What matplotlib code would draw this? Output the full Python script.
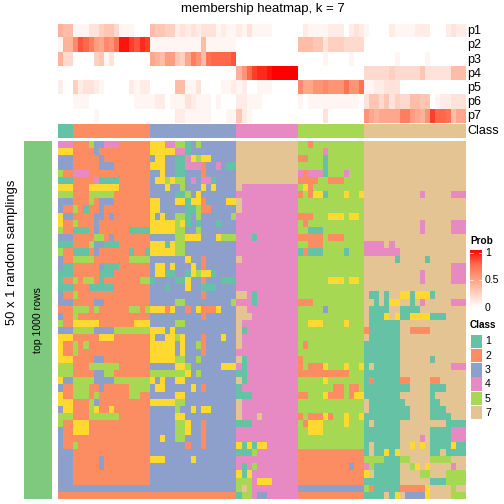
import numpy as np
import matplotlib
matplotlib.use("Agg")
import matplotlib.pyplot as plt
from matplotlib.colors import ListedColormap, LinearSegmentedColormap
from matplotlib.patches import Rectangle

plt.rcParams["font.family"] = ["Liberation Sans", "DejaVu Sans"]

W = 504.0
H = 504.0

class_ids = ["1", "2", "3", "4", "5", "6", "7"]
class_colors = ["#66C2A5", "#FC8D62", "#8DA0CB", "#E78AC3", "#A6D854", "#FFD92F", "#E5C494"]
legend_ids = ["1", "2", "3", "4", "5", "7"]
legend_colors = ["#66C2A5", "#FC8D62", "#8DA0CB", "#E78AC3", "#A6D854", "#E5C494"]
prob_labels = ["p1", "p2", "p3", "p4", "p5", "p6", "p7"]

# class of each column: blocks 3, 15, 17, 12, 13, 20
column_class = "111 222222222222222 33333333333333333 444444444444 5555555555555 77777777777777777777"

# membership prob per column, one char = 0.05 step (base 36)
prob_rows = [
    "877 111335664111000 76655232323331211 213111100000 0211112220232 10000211112220002322",
    "188 cgfda9cbejjhgih 11111111117111111 000000000000 7776635554444 00000000000000000000",
    "844 000056130000000 987aa659db7effffg 000000000000 0000010000100 00000010000010000000",
    "000 000000000000000 00000000000000000 8bfhiijkkkkk 0000000000000 44444544444633333777",
    "200 523321000002122 00000771130000112 120011100000 c99bbcbbbebbe 11223330000000000000",
    "000 111000000000111 12201113211101000 221110000000 1011111111110 36646354477660122333",
    "000 000010000000000 00000221111100011 621000000000 0000030000000 b989999dda98bhffe799",
]

# class of each sampling (row) and gene set (column)
heat_rows = [
    "444 222533444222222 66644551353333333 777777777777 5525555555555 77777777777777777777",
    "666 222232222222222 66666441333333333 777777777777 5555545555555 77777777777777777777",
    "333 222223222222222 36633114656633333 777777777777 2255515555555 77777777777777777777",
    "333 222223332222222 66633114442334311 777777777777 5555515555555 77777777777777777777",
    "522 444222222222222 33633113332333333 777777777777 4244415554555 77777777777777777777",
    "111 222241111222222 36656553434413333 777777777777 2222552225555 77777777777777777777",
    "666 222666666222222 33363353336363333 744444444444 5625555555555 77777777777777777777",
    "555 222555552222222 33333115363333333 444444444444 2526615556556 77777777777477777444",
    "333 222523332222222 66333661662333366 744444444444 5555555555555 77777777777777777777",
    "322 521223222222222 66333331152233333 744444444444 5555555555555 77777777777777777777",
    "633 222233232222222 63633551353333335 444444444444 2225556665665 77777777777777777777",
    "622 522232222222222 66666561313331333 444444444444 5255555555555 77777777777477777444",
    "522 111232222221111 66666553353333333 444444444444 5511155555555 77777777777477777444",
    "333 222255232222222 33333556663336555 444144444444 2222252225555 77777777777777777777",
    "111 222533111222222 66616553333333333 444444444444 5522255555555 44447477777777777777",
    "522 111232222221221 66666553333333333 444444444444 1211155551555 44444447777777777777",
    "322 555522222225555 33333336332333333 744444444444 5555555555555 77777717777717777777",
    "311 222223111222222 36636333632333333 444444444444 5555555555555 77777777777777777444",
    "111 222221112222222 36611331656613333 444444444444 5555555555555 77777777777477777444",
    "122 525521222222255 13333116332333111 444444444444 5555556665665 77777777777477777444",
    "111 222111112222222 33313336331113333 444444444444 5555555555555 77777777777777777777",
    "322 522222222222222 33333333332333333 774144444444 5555555555555 71171776616661777777",
    "333 222233222222222 33333553333333335 444144444444 2225555555555 77171667717477777444",
    "222 555252222225525 66626332362226333 774444444444 5555535555555 71111771111777777777",
    "322 522222222222222 33333333332333333 777444444444 5555555555555 71116761166661117777",
    "522 666662222222666 33333553333333333 744444444444 5566655556555 71111117777777777777",
    "333 555533335555555 66636333333333333 714444444444 5555555555555 21111117722227777777",
    "666 222226662222222 63366563332333633 744444444444 5555555555555 71111117777777777777",
    "622 525222222222222 66666363352333333 744444444444 5255555555555 11111117777777777777",
    "622 522222222222222 66666363332333333 444444444444 5555555555555 11111117777777777777",
    "666 222233222222222 66666553353333333 714444444444 2555555555555 11111117777771777777",
    "555 222555555222222 33333665333333666 414444444444 2522265556556 17111117777777777444",
    "555 222233552222222 55555556353333333 114444444444 2222222222555 11111117777777777777",
    "633 555533335555555 63633663333333333 714444444444 5555565555555 12111112277772277777",
    "322 555223222225555 36633333632333333 144444444444 5555555225225 11111111177771117777",
    "622 555252222225522 33333663333333333 111444444444 2255562225266 11111117777771777777",
    "666 222532222222222 66666553333333333 744444444444 5555555555555 71111111777771177777",
    "366 222562262222222 33333533636633333 744444444444 5555555555555 71111111177771117777",
    "555 222555555222222 33333663333333333 744474444444 2522262556556 11111111177771111777",
    "522 666222222222222 33333556332333333 111444444444 5266655556555 17111117777777771111",
    "322 666222222222222 33333556332333333 444444444444 5566655555555 11111117777771111444",
    "322 222222222222222 33633553332333333 444444444444 5555555555555 11111117777471111444",
    "322 522222222222222 33333332332333333 616166444444 5555555555555 17111117767671111611",
    "333 222222222222222 33333333333333333 111544444444 2222222222222 17116167777771171111",
    "333 222223222222222 66633333633333333 444444444444 2222222222222 55551115577775555777",
    "333 222223222222222 33333333333333333 414544444444 2222222222322 45111117756767777477",
    "333 222222222222222 33333333333333333 616444444444 2222222222222 67111117777557775555",
    "333 222222222222222 33333333333333333 555466644444 2222222222222 11111117777771115555",
    "333 333333333333333 33333333333333333 575444444444 3333333333333 52111112222267777577",
    "222 222222222222222 22222222222222222 155433444444 2222222222222 11117167333367777555",
]


def class_index(text):
    return [class_ids.index(c) for c in text.replace(" ", "")]


def pixel_axes(x0, y0, x1, y1):
    # pixel box in image coordinates, y going down
    ax = fig.add_axes([x0 / W, 1 - y1 / H, (x1 - x0) / W, (y1 - y0) / H])
    ax.axis("off")
    return ax


def put_text(x, y, s, **kw):
    fig.text(x / W, 1 - y / H, s, **kw)


heat = np.array([class_index(r) for r in heat_rows])
top_class = np.array([class_index(column_class)])
probs = np.array([[int(c, 36) / 20 for c in r.replace(" ", "")] for r in prob_rows])

class_cmap = ListedColormap(class_colors)
prob_cmap = LinearSegmentedColormap.from_list(
    "prob", ["#FFFFFF", "#FFD0C1", "#FF9E81", "#FF6A4A", "#FF0000"]
)

fig = plt.figure(figsize=(7, 7), dpi=72)

x_left, x_right = 58, 466

ax = pixel_axes(x_left, 24, x_right, 123.5)
ax.imshow(probs, cmap=prob_cmap, vmin=0, vmax=1, aspect="auto", interpolation="nearest")

ax = pixel_axes(x_left, 124, x_right, 138)
ax.imshow(top_class, cmap=class_cmap, vmin=0, vmax=6, aspect="auto", interpolation="nearest")

ax = pixel_axes(x_left, 141, x_right, 499)
ax.imshow(heat, cmap=class_cmap, vmin=0, vmax=6, aspect="auto", interpolation="nearest")

# left annotation bar
ax = pixel_axes(24, 141, 52, 499)
ax.add_patch(Rectangle((0, 0), 1, 1, transform=ax.transAxes, color="#7FC97F", lw=0))

put_text(262.5, 9, "membership heatmap, k = 7", fontsize=13.3, ha="center", va="center")
put_text(12.5, 252, "50 x 1 random samplings", fontsize=13, rotation=90, ha="center", va="center")
put_text(38, 320, "top 1000 rows", fontsize=10.5, rotation=90, ha="center", va="center")

row_h = (123.5 - 24) / len(prob_labels)
for i, lab in enumerate(prob_labels):
    put_text(467.5, 24 + row_h * (i + 0.5), lab, fontsize=12.5, ha="left", va="center")
put_text(467.5, 131, "Class", fontsize=12.5, ha="left", va="center")

# Prob legend
put_text(470, 241, "Prob", fontsize=10, fontweight="bold", ha="left", va="center")
ax = pixel_axes(470, 250, 482, 308)
grad = np.linspace(1, 0, 100).reshape(-1, 1)
ax.imshow(grad, cmap=prob_cmap, vmin=0, vmax=1, aspect="auto")
for y in [253, 280]:
    fig.add_artist(plt.Line2D([470 / W, 473 / W], [1 - y / H] * 2, color="white", lw=0.7))
    fig.add_artist(plt.Line2D([479 / W, 482 / W], [1 - y / H] * 2, color="white", lw=0.7))
put_text(485, 253, "1", fontsize=10.5, ha="left", va="center")
put_text(485, 280, "0.5", fontsize=10.5, ha="left", va="center")
put_text(485, 308, "0", fontsize=10.5, ha="left", va="center")

# Class legend
put_text(470, 325, "Class", fontsize=10, fontweight="bold", ha="left", va="center")
for i, (lab, col) in enumerate(zip(legend_ids, legend_colors)):
    y = 334.5 + 14.25 * i
    fig.add_artist(Rectangle((470.5 / W, 1 - (y + 13.5) / H), 11.5 / W, 13.5 / H,
                             transform=fig.transFigure, facecolor=col, edgecolor="none"))
    put_text(485, y + 7, lab, fontsize=10.5, ha="left", va="center")

plt.savefig("out.png", dpi=72)
